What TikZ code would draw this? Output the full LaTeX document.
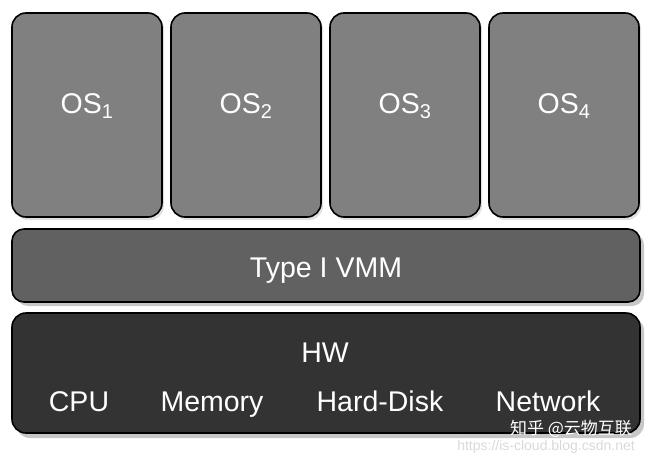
\documentclass[tikz,border=0pt]{standalone}
\usepackage{fontspec}
\setmainfont{Liberation Sans}
\newfontfamily\cjk{Noto Sans CJK SC}
\begin{document}
\begin{tikzpicture}[x=1pt,y=-1pt,
  layerbox/.style={draw=black,line width=1.6pt,rounded corners=14pt},
  shadowbox/.style={fill=black!22,rounded corners=14pt},
  lbl/.style={text=white,font=\fontsize{28.5}{30}\selectfont,inner sep=0pt,anchor=base},
  wm/.style={inner sep=0pt,anchor=base}]
\useasboundingbox (0,0) rectangle (660,455);
% OS boxes
\foreach \i/\x in {1/12,2/171,3/330,4/489}{
  \fill[black!12,rounded corners=14pt] (\x+2,15) rectangle (\x+152,220);
  \draw[layerbox,fill=black!50] (\x,13) rectangle (\x+150,217);
  \node[lbl] (os\i) at (\x+75,113) {OS\textsubscript{\fontsize{20}{21}\selectfont\i}};
}
% VMM
\fill[shadowbox,rounded corners=12pt] (16,233) rectangle (644,306);
\draw[layerbox,rounded corners=12pt,fill=black!62] (12,229) rectangle (640,302);
\node[lbl] (vmm) at (326,277) {Type I VMM};
% HW
\fill[shadowbox] (16,317) rectangle (644,438);
\draw[layerbox,fill=black!80] (12,313) rectangle (640,433);
\node[lbl] (hw) at (325,362) {HW};
\node[lbl] (cpu) at (79,411) {CPU};
\node[lbl] (mem) at (212,411) {Memory};
\node[lbl] (disk) at (380,411) {Hard-Disk};
\node[lbl] (net) at (548,411) {Network};
% watermark
\node[wm,text=black!15,font=\fontsize{14}{15}\selectfont] (url) at (546,450) {https://is-cloud.blog.csdn.net};
\node[wm,text=white,font=\cjk\fontsize{17}{18}\selectfont] (zh) at (571,434) {知乎 @云物互联};
\end{tikzpicture}
\end{document}
